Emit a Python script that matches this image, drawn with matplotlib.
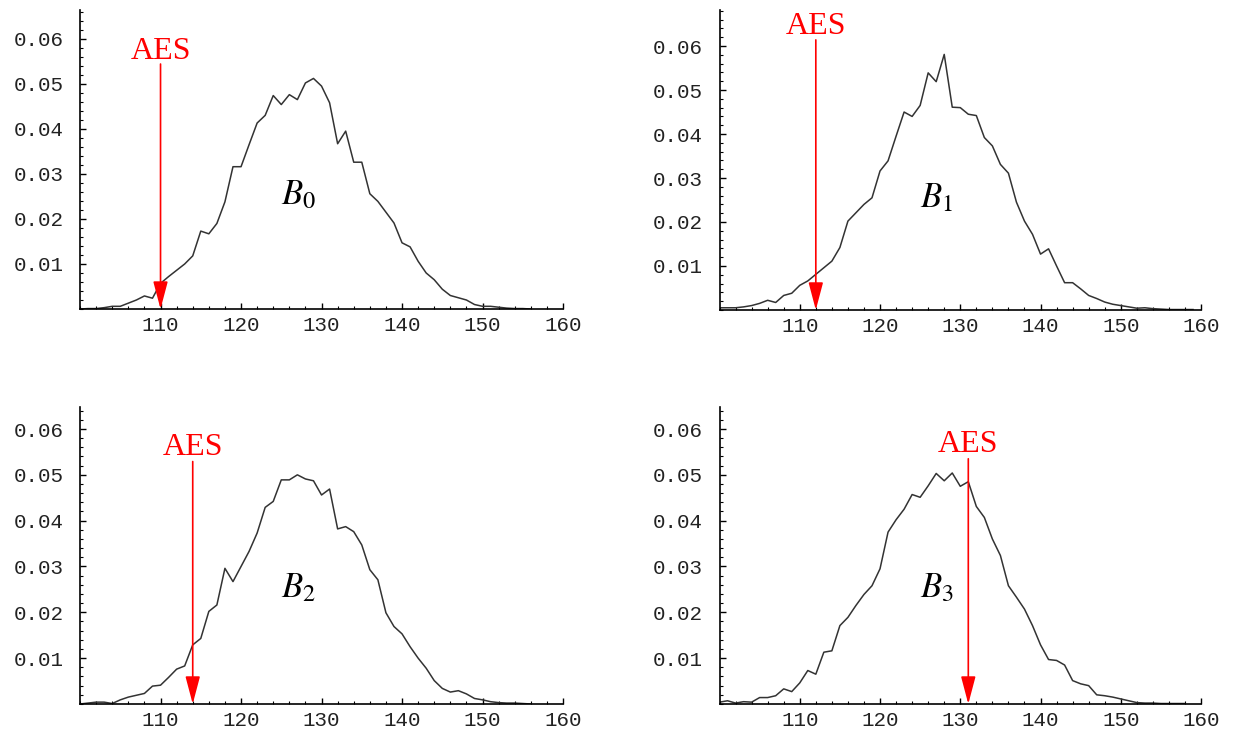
import matplotlib.pyplot as plt
import numpy as np
from matplotlib.ticker import MultipleLocator, FormatStrFormatter

# x positions of the histogram points
x_b0 = np.arange(100, 157)
x_b1 = np.arange(100, 160)
x_b2 = np.arange(100, 157)
x_b3 = np.arange(100, 159)

# frequencies
b0 = [0.0000, 0.0001, 0.0001, 0.0003, 0.0006, 0.0006, 0.0013, 0.0020, 0.0029, 0.0024,
      0.0057, 0.0072, 0.0086, 0.0100, 0.0118, 0.0173, 0.0167, 0.0190, 0.0238, 0.0316,
      0.0316, 0.0365, 0.0413, 0.0430, 0.0474, 0.0454, 0.0476, 0.0465, 0.0502, 0.0512,
      0.0495, 0.0458, 0.0367, 0.0395, 0.0326, 0.0326, 0.0256, 0.0239, 0.0215, 0.0191,
      0.0147, 0.0138, 0.0106, 0.0080, 0.0065, 0.0044, 0.0030, 0.0025, 0.0020, 0.0010,
      0.0006, 0.0006, 0.0004, 0.0002, 0.0001, 0.0001, 0.0000]
b1 = [0.0005, 0.0005, 0.0005, 0.0007, 0.0010, 0.0015, 0.0022, 0.0017, 0.0033, 0.0038,
      0.0056, 0.0066, 0.0081, 0.0096, 0.0111, 0.0142, 0.0202, 0.0221, 0.0240, 0.0255,
      0.0316, 0.0339, 0.0395, 0.0450, 0.0440, 0.0465, 0.0539, 0.0519, 0.0581, 0.0461,
      0.0460, 0.0445, 0.0442, 0.0392, 0.0373, 0.0331, 0.0311, 0.0245, 0.0202, 0.0172,
      0.0127, 0.0139, 0.0100, 0.0062, 0.0062, 0.0048, 0.0033, 0.0026, 0.0018, 0.0013,
      0.0010, 0.0007, 0.0004, 0.0005, 0.0003, 0.0002, 0.0001, 0.0001, 0.0001, 0.0001]
b2 = [0.0000, 0.0002, 0.0004, 0.0004, 0.0001, 0.0009, 0.0015, 0.0019, 0.0023, 0.0039,
      0.0041, 0.0058, 0.0076, 0.0083, 0.0129, 0.0143, 0.0202, 0.0216, 0.0296, 0.0267,
      0.0300, 0.0333, 0.0373, 0.0429, 0.0442, 0.0489, 0.0489, 0.0500, 0.0491, 0.0487,
      0.0456, 0.0469, 0.0382, 0.0387, 0.0376, 0.0347, 0.0293, 0.0271, 0.0199, 0.0169,
      0.0153, 0.0125, 0.0100, 0.0078, 0.0051, 0.0034, 0.0026, 0.0029, 0.0022, 0.0012,
      0.0009, 0.0005, 0.0003, 0.0002, 0.0002, 0.0001, 0.0000]
b3 = [0.0004, 0.0007, 0.0002, 0.0005, 0.0004, 0.0014, 0.0014, 0.0018, 0.0033, 0.0027,
      0.0046, 0.0073, 0.0065, 0.0113, 0.0116, 0.0171, 0.0189, 0.0215, 0.0239, 0.0258,
      0.0295, 0.0375, 0.0402, 0.0425, 0.0457, 0.0451, 0.0476, 0.0503, 0.0487, 0.0504,
      0.0475, 0.0485, 0.0431, 0.0407, 0.0360, 0.0324, 0.0258, 0.0233, 0.0207, 0.0171,
      0.0129, 0.0097, 0.0095, 0.0085, 0.0051, 0.0044, 0.0040, 0.0020, 0.0018, 0.0015,
      0.0011, 0.0007, 0.0003, 0.0002, 0.0002, 0.0001, 0.0001, 0.0001, 0.0001]

xs = [x_b0, x_b1, x_b2, x_b3]
series = [b0, b1, b2, b3]
names = ['$B_0$', '$B_1$', '$B_2$', '$B_3$']
aes_x = [110, 112, 114, 131]

# layout (figure fractions) and per-panel settings
boxes = [[0.0648, 0.579, 0.3911, 0.4074],
         [0.5826, 0.5777, 0.3899, 0.4087],
         [0.0648, 0.0409, 0.3911, 0.4046],
         [0.5826, 0.0409, 0.3899, 0.4046]]
ytops = [0.0664, 0.0682, 0.0648, 0.0648]
arrow_tops = [0.0544, 0.0614, 0.0529, 0.0535]
text_y = [0.0556, 0.0627, 0.0544, 0.0550]

plt.rcParams['mathtext.fontset'] = 'stix'

fig = plt.figure(figsize=(12.35, 7.34), dpi=100)

for i in range(4):
    ax = fig.add_axes(boxes[i])
    ax.plot(xs[i], series[i], color='#333333', lw=1.1)
    ax.set_xlim(100, 160)
    ax.set_ylim(0, ytops[i])

    ax.spines['top'].set_visible(False)
    ax.spines['right'].set_visible(False)
    ax.spines['left'].set_linewidth(1.2)
    ax.spines['bottom'].set_linewidth(1.2)

    ax.xaxis.set_major_locator(MultipleLocator(10))
    ax.xaxis.set_minor_locator(MultipleLocator(2))
    ax.yaxis.set_major_locator(MultipleLocator(0.01))
    ax.yaxis.set_minor_locator(MultipleLocator(0.002))
    ax.set_xticks(np.arange(110, 161, 10))
    ax.set_yticks(np.arange(0.01, 0.061, 0.01))
    ax.yaxis.set_major_formatter(FormatStrFormatter('%.2f'))
    ax.tick_params(which='major', direction='in', length=4.5, width=1, colors='black')
    ax.tick_params(which='minor', direction='in', length=2.5, width=0.8)
    ax.tick_params(axis='y', which='major', pad=12)
    ax.tick_params(axis='x', which='major', pad=5)
    for lab in ax.get_xticklabels() + ax.get_yticklabels():
        lab.set_fontfamily('Liberation Mono')
        lab.set_fontsize(15)
        lab.set_color('#222222')

    # red AES marker
    ax.annotate('', xy=(aes_x[i], 0), xytext=(aes_x[i], arrow_tops[i]),
                arrowprops=dict(arrowstyle='-|>,head_length=1.7,head_width=0.45',
                                color='red', lw=1.2, shrinkA=0, shrinkB=0,
                                mutation_scale=10), annotation_clip=False)
    ax.text(aes_x[i], text_y[i], 'AES', color='red', fontsize=23,
            family='Liberation Serif', ha='center', va='baseline', clip_on=False)

    ax.text(125, 0.0233, names[i], fontsize=25, ha='left', va='baseline')

fig.savefig('out.png', dpi=100)
